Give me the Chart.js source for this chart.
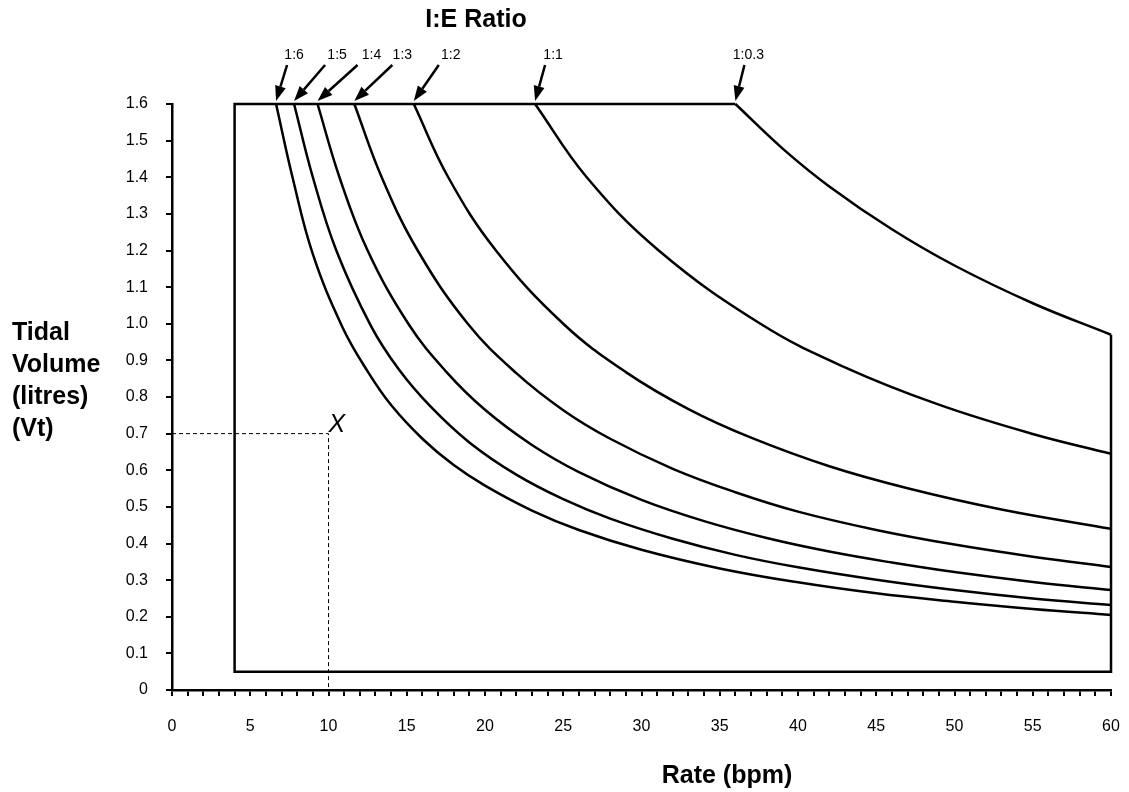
<!DOCTYPE html>
<html>
<head>
<meta charset="utf-8">
<title>I:E Ratio</title>
<script src="https://cdn.jsdelivr.net/npm/chart.js@4/dist/chart.umd.min.js"></script>
<style>
    html, body { margin: 0; padding: 0; background: #ffffff; }
    #chart-wrap { width: 1129px; height: 792px; position: relative; }
</style>
</head>
<body>
<div id="chart-wrap"><canvas id="ie-chart"></canvas></div>
<script>
// =========================================================
// DATA
// =========================================================

const ratioLabels = ["1:6", "1:5", "1:4", "1:3", "1:2", "1:1", "1:0.3"];

// rate (bpm) / tidal volume (litres) per I:E curve
const rates16 = [6.65, 7.7, 9.0, 10.9, 12.5, 14, 16, 18, 20, 23, 26, 30, 35, 40, 45, 50, 55, 60];
const vt16 = [1.6, 1.4, 1.19, 0.99, 0.87, 0.778, 0.686, 0.614, 0.558, 0.49, 0.437, 0.383, 0.332, 0.294, 0.264, 0.241, 0.221, 0.205];

const rates15 = [7.8, 9.0, 10.5, 12.7, 14.5, 16.5, 19, 22, 25, 28, 32, 36, 40, 45, 50, 55, 60];
const vt15 = [1.6, 1.4, 1.2, 0.995, 0.875, 0.775, 0.676, 0.588, 0.521, 0.468, 0.413, 0.369, 0.335, 0.301, 0.273, 0.25, 0.232];

const rates14 = [9.3, 10.7, 12.5, 15.1, 17.5, 20, 23, 26, 30, 34, 38, 42, 46, 50, 55, 60];
const vt14 = [1.6, 1.4, 1.2, 1.0, 0.87, 0.765, 0.669, 0.595, 0.519, 0.461, 0.415, 0.378, 0.348, 0.322, 0.295, 0.273];

const rates13 = [11.65, 13.4, 15.7, 18.9, 22, 25, 28, 32, 36, 40, 45, 50, 55, 60];
const vt13 = [1.6, 1.4, 1.2, 1.0, 0.865, 0.764, 0.686, 0.604, 0.54, 0.487, 0.437, 0.397, 0.364, 0.336];

const rates12 = [15.45, 17.65, 20.7, 25, 29, 33, 37, 42, 47, 53, 60];
const vt12 = [1.6, 1.4, 1.2, 1.0, 0.868, 0.767, 0.689, 0.611, 0.551, 0.493, 0.44];

const rates11 = [23.2, 26.5, 31.1, 37.6, 43, 49, 55, 60];
const vt11 = [1.6, 1.4, 1.2, 1.0, 0.881, 0.779, 0.699, 0.645];

const rates103 = [36, 39, 42, 46, 50, 55, 60];
const vt103 = [1.6, 1.479, 1.375, 1.258, 1.159, 1.056, 0.97];

// operating envelope outline
const boxRates = [36, 4, 4, 60, 60];
const boxVt = [1.6, 1.6, 0.05, 0.05, 0.97];

// example reading "X" (10 bpm, 0.7 l)
const guideRates = [0, 10, 10];
const guideVt = [0.7, 0.7, 0];

// axis ticks
const rateTickLabels = [0, 5, 10, 15, 20, 25, 30, 35, 40, 45, 50, 55, 60];
const vtTickLabels = ["0", "0.1", "0.2", "0.3", "0.4", "0.5", "0.6", "0.7", "0.8", "0.9", "1.0", "1.1", "1.2", "1.3", "1.4", "1.5", "1.6"];

const curveRates = [rates16, rates15, rates14, rates13, rates12, rates11, rates103];
const curveVt = [vt16, vt15, vt14, vt13, vt12, vt11, vt103];

// =========================================================
// STYLE
// =========================================================

const FONT = "'Liberation Sans', Arial, Helvetica, sans-serif";
const INK = "#000000";

// arrow tail / label offsets from the arrow tip (pixels)
const arrowTailDx = [11, 31, 40, 38, 25, 10, 9];
const labelDx = [18, 43, 54, 48, 37, 18, 13];

// =========================================================
// HELPERS
// =========================================================

function toPoints(xs, ys) {
    const points = [];

    for (let index = 0; index < xs.length; index++) {
        points.push({ x: xs[index], y: ys[index] });
    }

    return points;
}

function createLineDataset(points, smooth) {
    return {
        data: points,
        showLine: true,
        borderColor: INK,
        borderWidth: 2.5,
        pointRadius: 0,
        fill: false,
        clip: false,
        tension: smooth ? 0.4 : 0,
        borderCapStyle: "butt",
        borderJoinStyle: "miter"
    };
}

function drawArrow(ctx, fromX, fromY, toX, toY) {
    const angle = Math.atan2(toY - fromY, toX - fromX);
    const headLength = 15;
    const headWidth = 5.5;

    const baseX = toX - headLength * Math.cos(angle);
    const baseY = toY - headLength * Math.sin(angle);

    ctx.beginPath();
    ctx.moveTo(fromX, fromY);
    ctx.lineTo(baseX, baseY);
    ctx.lineWidth = 2.5;
    ctx.strokeStyle = INK;
    ctx.stroke();

    ctx.beginPath();
    ctx.moveTo(toX, toY);
    ctx.lineTo(baseX + headWidth * Math.sin(angle), baseY - headWidth * Math.cos(angle));
    ctx.lineTo(baseX - headWidth * Math.sin(angle), baseY + headWidth * Math.cos(angle));
    ctx.closePath();
    ctx.fillStyle = INK;
    ctx.fill();
}

function removeLabelPadding(scale) {
    scale.paddingLeft = 0;
    scale.paddingRight = 0;
    scale.paddingTop = 0;
    scale.paddingBottom = 0;
}

// --- Annotation plugin: titles, ratio arrows, "X" marker --- //

const annotationPlugin = {
    id: "ieAnnotations",
    afterDraw(chart) {
        const ctx = chart.ctx;
        const xScale = chart.scales.x;
        const yScale = chart.scales.y;

        ctx.save();
        ctx.fillStyle = INK;

        // chart title
        ctx.font = "bold 25px " + FONT;
        ctx.textAlign = "center";
        ctx.textBaseline = "alphabetic";
        ctx.fillText("I:E Ratio", 476, 27);

        // x axis title
        ctx.fillText("Rate (bpm)", 727, 783);

        // y axis title, stacked
        ctx.textAlign = "left";
        ctx.textBaseline = "middle";
        const yTitleLines = ["Tidal", "Volume", "(litres)", "(Vt)"];
        for (let lineIndex = 0; lineIndex < yTitleLines.length; lineIndex++) {
            ctx.fillText(yTitleLines[lineIndex], 12, 333 + lineIndex * 32);
        }

        // ratio arrows
        const topY = yScale.getPixelForValue(1.6);
        ctx.font = "14px " + FONT;
        ctx.textAlign = "center";
        for (let curveIndex = 0; curveIndex < ratioLabels.length; curveIndex++) {
            const tipX = xScale.getPixelForValue(curveRates[curveIndex][0]);
            const tipY = topY - 3;

            drawArrow(ctx, tipX + arrowTailDx[curveIndex], tipY - 36, tipX, tipY);

            ctx.fillStyle = INK;
            ctx.fillText(ratioLabels[curveIndex], tipX + labelDx[curveIndex], tipY - 46);
        }

        // "X" marker
        const markX = xScale.getPixelForValue(guideRates[1]);
        const markY = yScale.getPixelForValue(guideVt[1]);
        ctx.font = "italic 25px " + FONT;
        ctx.textAlign = "left";
        ctx.textBaseline = "alphabetic";
        ctx.fillText("X", markX, markY - 2);

        ctx.restore();
    }
};

// =========================================================
// CHART
// =========================================================

function buildDatasets() {
    const datasets = [];

    for (let curveIndex = 0; curveIndex < curveRates.length; curveIndex++) {
        datasets.push(createLineDataset(toPoints(curveRates[curveIndex], curveVt[curveIndex]), true));
    }

    datasets.push(createLineDataset(toPoints(boxRates, boxVt), false));

    const guide = createLineDataset(toPoints(guideRates, guideVt), false);
    guide.borderWidth = 1;
    guide.borderDash = [4, 3];
    datasets.push(guide);

    return datasets;
}

const chartCanvas = document.getElementById("ie-chart");

const ieChart = new Chart(chartCanvas, {
    type: "scatter",
    data: {
        datasets: buildDatasets()
    },
    options: {
        responsive: true,
        maintainAspectRatio: false,
        animation: false,
        layout: {
            padding: {
                top: 104,
                right: 18,
                bottom: 0,
                left: 0
            }
        },
        scales: {
            x: {
                type: "linear",
                min: 0,
                max: 60,
                afterFit: function (scale) {
                    scale.height = 102;
                    removeLabelPadding(scale);
                },
                grid: {
                    drawOnChartArea: false,
                    drawTicks: true,
                    tickLength: 6,
                    color: INK,
                    lineWidth: 2
                },
                border: {
                    display: true,
                    color: INK,
                    width: 2.5
                },
                ticks: {
                    stepSize: 1,
                    autoSkip: false,
                    maxRotation: 0,
                    padding: 21,
                    color: INK,
                    font: { family: FONT, size: 16 },
                    callback: function (value) {
                        return rateTickLabels.includes(value) ? String(value) : "";
                    }
                }
            },
            y: {
                type: "linear",
                min: 0,
                max: 1.6,
                afterFit: function (scale) {
                    scale.width = 172;
                    removeLabelPadding(scale);
                },
                grid: {
                    drawOnChartArea: false,
                    drawTicks: true,
                    tickLength: 6,
                    color: INK,
                    lineWidth: 2
                },
                border: {
                    display: true,
                    color: INK,
                    width: 2.5
                },
                ticks: {
                    stepSize: 0.1,
                    autoSkip: false,
                    padding: 18,
                    color: INK,
                    font: { family: FONT, size: 16 },
                    callback: function (value, index) {
                        return vtTickLabels[index];
                    }
                }
            }
        },
        plugins: {
            legend: { display: false },
            tooltip: { enabled: false },
            title: { display: false }
        }
    },
    plugins: [annotationPlugin]
});
</script>
</body>
</html>
